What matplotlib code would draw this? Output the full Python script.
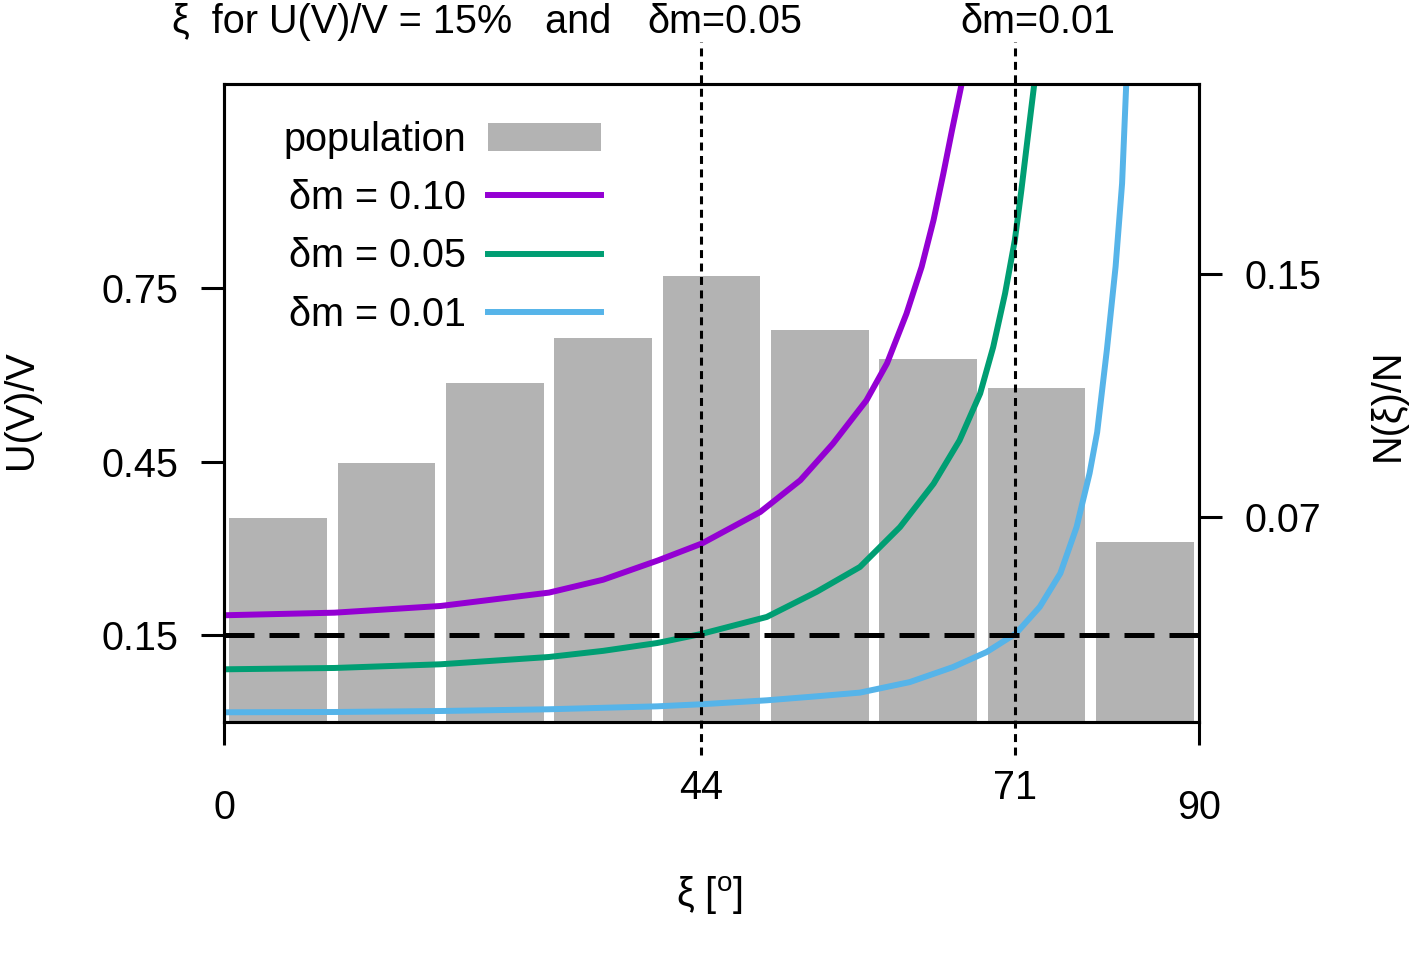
import matplotlib.pyplot as plt
from matplotlib.patches import Patch

plt.rcParams['font.family'] = ['Liberation Sans', 'DejaVu Sans']
plt.rcParams['mathtext.fontset'] = 'custom'
plt.rcParams['mathtext.rm'] = 'Liberation Sans'

# population histogram (right axis)
bin_centers = [5, 15, 25, 35, 45, 55, 65, 75, 85]
population = [0.0696, 0.0877, 0.1141, 0.1290, 0.1495, 0.1316, 0.1220, 0.1125, 0.0615]

# U(V)/V curves (left axis)
xi_d10 = [0, 10.2, 20, 30, 35, 40.1, 44.1, 49.5, 53.2, 56.2, 59.3, 61.2, 63.0, 64.4, 65.5,
          66.4, 67.2, 68.1, 68.4]
u_d10 = [0.1845, 0.189, 0.2006, 0.2237, 0.246, 0.2796, 0.3085, 0.3631, 0.418, 0.481, 0.556,
         0.620, 0.706, 0.787, 0.868, 0.948, 1.023, 1.104, 1.14]

xi_d05 = [0, 10.2, 20, 30, 35, 40, 44, 50.1, 54.7, 58.7, 62.4, 65.5, 67.9, 69.8, 71.0, 72.1,
          73.0, 73.6, 74.2, 74.8, 75.0]
u_d05 = [0.0911, 0.0934, 0.0998, 0.1124, 0.123, 0.1366, 0.152, 0.1816, 0.225, 0.268, 0.337,
         0.412, 0.487, 0.568, 0.648, 0.741, 0.833, 0.919, 1.012, 1.104, 1.14]

xi_d01 = [0, 10.2, 20, 30, 40, 44, 50.1, 54.7, 58.7, 63.3, 67.3, 70.4, 73.1, 75.3, 77.2, 78.7,
          79.9, 80.6, 81.5, 82.3, 82.9, 83.3, 83.4]
u_d01 = [0.0168, 0.0173, 0.019, 0.022, 0.0271, 0.0306, 0.0375, 0.0444, 0.0508, 0.069, 0.095,
         0.121, 0.153, 0.199, 0.257, 0.337, 0.430, 0.501, 0.644, 0.787, 0.931, 1.11, 1.14]

threshold = 0.15
xi_marks = [44, 73]
xi_mark_labels = ['44', '71']

fs = 28.5
fig = plt.figure(figsize=(14.11, 9.59), dpi=100)
ax = fig.add_axes([224 / 1411, 1 - 722 / 959, 975 / 1411, 638 / 959])
ax2 = ax.twinx()
ax.set_zorder(ax2.get_zorder() + 1)
ax.patch.set_visible(False)

ax2.bar(bin_centers, population, width=9, color='#b3b3b3', edgecolor='none')
ax2.set_ylim(0.0022, 0.2128)
ax2.set_yticks([0.07, 0.15])
ax2.set_yticklabels(['0.07', '0.15'])
ax2.tick_params(axis='y', direction='out', length=16.5, width=2.2, pad=16, labelsize=fs)
ax2.set_ylabel('N(ξ)/N', fontsize=fs, rotation=90, va='center')
ax2.yaxis.set_label_coords(1.194, 0.497)

l1, = ax.plot(xi_d10, u_d10, color='#9400d3', lw=4.3, solid_joinstyle='round')
l2, = ax.plot(xi_d05, u_d05, color='#009e73', lw=4.3, solid_joinstyle='round')
l3, = ax.plot(xi_d01, u_d01, color='#56b4e9', lw=4.3, solid_joinstyle='round')
ax.axhline(threshold, color='black', lw=3.6, dashes=(6.0, 3.0))
for xm in xi_marks:
    ax.axvline(xm, ymin=-0.052, ymax=1.066, color='black', lw=2.2, dashes=(2.6, 1.8),
               clip_on=False)

ax.set_xlim(0, 90)
ax.set_ylim(0, 1.103)
ax.set_yticks([0.15, 0.45, 0.75])
ax.set_yticklabels(['0.15', '0.45', '0.75'])
ax.set_xticks([0, 90])
ax.set_xticklabels(['0', '90'])
ax.set_xticks(xi_marks, minor=True)
ax.set_xticklabels(xi_mark_labels, minor=True)
ax.tick_params(axis='x', which='major', direction='out', length=16.5, width=2.2, pad=32,
               labelsize=fs)
ax.tick_params(axis='x', which='minor', length=0, pad=34, labelsize=fs)
ax.tick_params(axis='y', direction='out', length=16.5, width=2.2, pad=16, labelsize=fs)
ax.set_xlabel('ξ [$^{\\rm o}$]', fontsize=fs, va='center')
ax.xaxis.set_label_coords(0.498, -0.272)
ax.set_ylabel('U(V)/V', fontsize=fs, va='center')
ax.yaxis.set_label_coords(-0.208, 0.489)
for a in (ax, ax2):
    for s in a.spines.values():
        s.set_linewidth(2.2)

handles = [Patch(facecolor='#b3b3b3', edgecolor='none'), l1, l2, l3]
labels = ['population', 'δm = 0.10', 'δm = 0.05', 'δm = 0.01']
ax.legend(handles, labels, loc='upper left', bbox_to_anchor=(0.061, 0.942), frameon=False,
          markerfirst=False, fontsize=fs, handlelength=2.85, handletextpad=0.56,
          labelspacing=0.51, borderpad=0, borderaxespad=0)

fig.text(172 / 1411, 1 - 22 / 959, 'ξ  for U(V)/V = 15%   and', fontsize=fs, ha='left',
         va='center')
fig.text(725 / 1411, 1 - 22 / 959, 'δm=0.05', fontsize=fs, ha='center', va='center')
fig.text(1038 / 1411, 1 - 22 / 959, 'δm=0.01', fontsize=fs, ha='center', va='center')

fig.savefig('out.png', dpi=100)
